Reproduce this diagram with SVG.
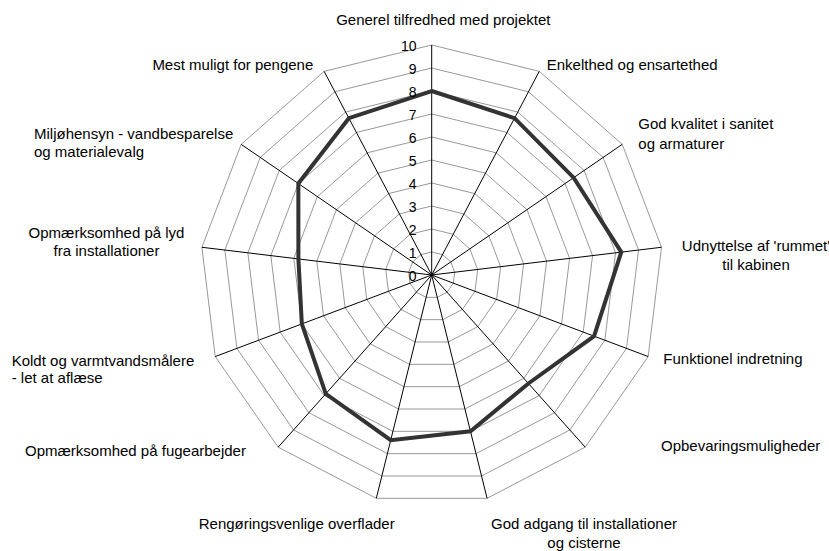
<svg xmlns="http://www.w3.org/2000/svg" xmlns:xlink="http://www.w3.org/1999/xlink" width="829" height="551" viewBox="0 0 829 551">
  <style>
    .bg { fill: #ffffff; }
    .ring { fill: none; stroke: #999999; stroke-width: 1; vector-effect: non-scaling-stroke; }
    .axis { fill: none; stroke: #000000; stroke-width: 1; }
    .series { fill: none; stroke: #333333; stroke-width: 4; stroke-linejoin: miter; }
    text { font-family: "Liberation Sans", Arial, sans-serif; font-size: 15px; fill: #000000; }
    .tick { font-size: 14px; text-anchor: end; }
    .mid { text-anchor: middle; }
    .end { text-anchor: end; }
  </style>
  <defs>
    <!-- unit 13-gon (radius 100), scaled per grid level -->
    <polygon id="ring" class="ring" points="0,-100 46.472,-88.546 82.298,-56.806 99.271,-12.054 93.502,35.460 66.312,74.851 23.932,97.094 -23.932,97.094 -66.312,74.851 -93.502,35.460 -99.271,-12.054 -82.298,-56.806 -46.472,-88.546"/>
  </defs>
  <rect class="bg" x="0" y="0" width="829" height="551"/>

  <!-- grid rings, levels 1..10 -->
  <g id="grid" transform="translate(431.7 275)">
    <use xlink:href="#ring" transform="scale(0.2315 0.23)"/>
    <use xlink:href="#ring" transform="scale(0.4630 0.46)"/>
    <use xlink:href="#ring" transform="scale(0.6945 0.69)"/>
    <use xlink:href="#ring" transform="scale(0.9260 0.92)"/>
    <use xlink:href="#ring" transform="scale(1.1575 1.15)"/>
    <use xlink:href="#ring" transform="scale(1.3890 1.38)"/>
    <use xlink:href="#ring" transform="scale(1.6205 1.61)"/>
    <use xlink:href="#ring" transform="scale(1.8520 1.84)"/>
    <use xlink:href="#ring" transform="scale(2.0835 2.07)"/>
    <use xlink:href="#ring" transform="scale(2.3150 2.30)"/>
  </g>

  <!-- spokes -->
  <g id="connectors" transform="translate(431.7 275)">
    <path class="axis" d="M0,0 L0,-230 M0,0 L107.58,-203.66 M0,0 L190.52,-130.65 M0,0 L229.81,-27.72 M0,0 L216.46,81.56 M0,0 L153.51,172.16 M0,0 L55.40,223.32 M0,0 L-55.40,223.32 M0,0 L-153.51,172.16 M0,0 L-216.46,81.56 M0,0 L-229.81,-27.72 M0,0 L-190.52,-130.65 M0,0 L-107.58,-203.66"/>
  </g>

  <!-- data series -->
  <g id="series" transform="translate(431.7 275)">
    <polygon class="series" points="0,-184 82.84,-156.81 141.93,-97.34 189.59,-22.87 162.34,61.17 96.71,108.46 38.78,156.32 -40.99,165.25 -105.92,118.79 -129.87,48.93 -133.29,-16.08 -133.36,-91.46 -82.84,-156.81"/>
  </g>

  <!-- scale values -->
  <g id="scale">
    <text class="tick" x="416.5" y="281">0</text>
    <text class="tick" x="416.5" y="258">1</text>
    <text class="tick" x="416.5" y="235">2</text>
    <text class="tick" x="416.5" y="212">3</text>
    <text class="tick" x="416.5" y="189">4</text>
    <text class="tick" x="416.5" y="166">5</text>
    <text class="tick" x="416.5" y="143">6</text>
    <text class="tick" x="416.5" y="120">7</text>
    <text class="tick" x="416.5" y="97">8</text>
    <text class="tick" x="416.5" y="74">9</text>
    <text class="tick" x="416.5" y="51">10</text>
  </g>

  <!-- category labels -->
  <g id="n0"><text class="mid" x="443.3" y="25">Generel tilfredhed med projektet</text></g>
  <g id="n1"><text x="546.7" y="69.5">Enkelthed og ensartethed</text></g>
  <g id="n2"><text x="638.3" y="129.3">God kvalitet i sanitet</text><text x="638.3" y="148.5">og armaturer</text></g>
  <g id="n3"><text class="mid" x="756" y="250.5">Udnyttelse af 'rummet'</text><text class="mid" x="756" y="270">til kabinen</text></g>
  <g id="n4"><text x="663.3" y="364">Funktionel indretning</text></g>
  <g id="n5"><text x="661" y="451">Opbevaringsmuligheder</text></g>
  <g id="n6"><text class="mid" x="584" y="529.3">God adgang til installationer</text><text class="mid" x="584" y="548">og cisterne</text></g>
  <g id="n7"><text class="mid" x="296.7" y="529.3">Rengøringsvenlige overflader</text></g>
  <g id="n8"><text x="25" y="456">Opmærksomhed på fugearbejder</text></g>
  <g id="n9"><text x="11.7" y="365.7">Koldt og varmtvandsmålere</text><text x="11.7" y="383.4">- let at aflæse</text></g>
  <g id="n10"><text class="mid" x="106.5" y="238">Opmærksomhed på lyd</text><text class="mid" x="106.5" y="255.5">fra installationer</text></g>
  <g id="n11"><text x="34" y="139">Miljøhensyn - vandbesparelse</text><text x="34" y="157">og materialevalg</text></g>
  <g id="n12"><text class="end" x="313.3" y="70">Mest muligt for pengene</text></g>
</svg>
